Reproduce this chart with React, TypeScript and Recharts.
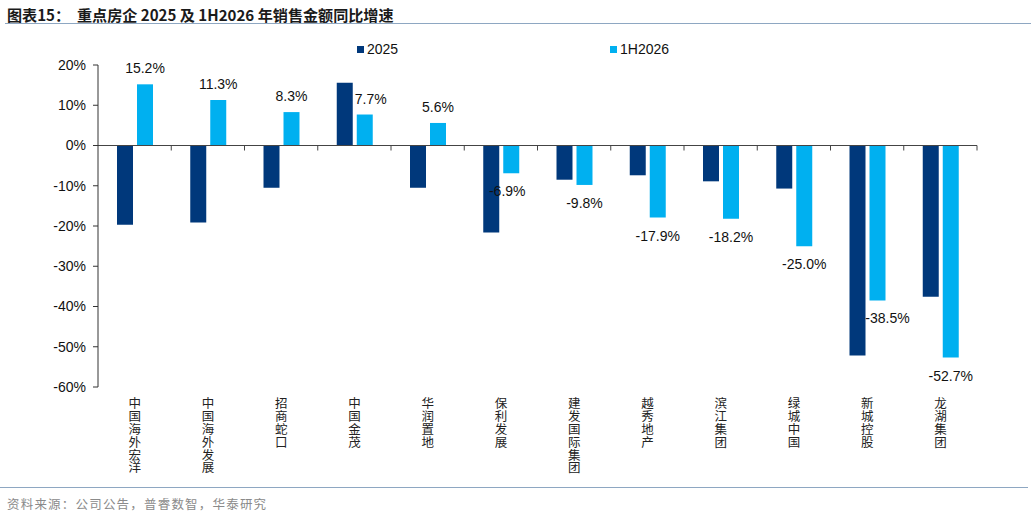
import React from "react";
import {
  BarChart,
  Bar,
  XAxis,
  YAxis,
  LabelList,
  ReferenceLine,
} from "recharts";

const companies = [
  "中国海外宏洋",
  "中国海外发展",
  "招商蛇口",
  "中国金茂",
  "华润置地",
  "保利发展",
  "建发国际集团",
  "越秀地产",
  "滨江集团",
  "绿城中国",
  "新城控股",
  "龙湖集团",
];

const growth2025 = [-19.7, -19.1, -10.5, 15.6, -10.5, -21.6, -8.5, -7.4, -8.9, -10.7, -52.2, -37.6];
const growth1H2026 = [15.2, 11.3, 8.3, 7.7, 5.6, -6.9, -9.8, -17.9, -18.2, -25.0, -38.5, -52.7];

const yTicks = [-60, -50, -40, -30, -20, -10, 0, 10, 20];

const DARK = "#00387B";
const LIGHT = "#00B0F0";
const LATIN = "'Liberation Sans', Arial, sans-serif";
const CJK = "'Noto Sans CJK SC', sans-serif";

// labels nudged sideways where excel moved them off the neighbouring bar
const labelNudge: Record<number, number> = { 3: 6, 5: -4, 10: 10 };

const data = companies.map((name, i) => ({
  name,
  y2025: growth2025[i],
  y1H2026: growth1H2026[i],
}));

// vertical stacked-character category labels
const VerticalTick = (props: any) => {
  const { x, y, payload } = props;
  return (
    <text
      x={x}
      y={y + 10}
      fontSize={12.5}
      fontFamily={CJK}
      fill="#222"
      style={{ writingMode: "vertical-rl", letterSpacing: 0.4 } as any}
    >
      {payload.value}
    </text>
  );
};

// zero line with tick marks at category boundaries
const ZeroAxis = (props: any) => {
  const { x1, y1, x2, y2 } = props;
  const n = companies.length;
  const step = (x2 - x1) / n;
  return (
    <g>
      <line x1={x1} y1={y1} x2={x2} y2={y2} stroke="#444" strokeWidth={1} />
      {companies.map((_, i) => {
        const tx = x1 + step * (i + 1);
        return <line key={i} x1={tx} y1={y1} x2={tx} y2={y1 + 5} stroke="#444" strokeWidth={1} />;
      })}
    </g>
  );
};

const ValueLabel = (props: any) => {
  const { x, y, width, height, value, index } = props;
  const top = Math.min(y, y + height);
  const bottom = Math.max(y, y + height);
  const cy = value >= 0 ? top - 16 : bottom + 18;
  return (
    <text
      x={x + width / 2 + (labelNudge[index] || 0)}
      y={cy}
      textAnchor="middle"
      dominantBaseline="central"
      fontSize={14}
      fontFamily={LATIN}
      fill="#111"
    >
      {`${value.toFixed(1)}%`}
    </text>
  );
};

export default function App() {
  return (
    <div
      style={{
        position: "absolute",
        left: 0,
        top: 0,
        width: 1031,
        height: 517,
        background: "#fff",
        overflow: "hidden",
      }}
    >
      <div
        style={{
          position: "absolute",
          left: 7,
          top: 3,
          fontFamily: CJK,
          fontWeight: 700,
          fontSize: 15.1,
          color: "#1a1a1a",
          whiteSpace: "pre",
        }}
      >
        {"图表15：  重点房企 2025 及 1H2026 年销售金额同比增速"}
      </div>
      <div style={{ position: "absolute", left: 5, top: 23, width: 1026, height: 1, background: "#8EA7C2" }} />

      {/* legend */}
      <div style={{ position: "absolute", left: 357, top: 41, display: "flex", alignItems: "center", fontFamily: LATIN, fontSize: 14, color: "#111" }}>
        <span style={{ width: 7, height: 7, background: DARK, marginRight: 3 }} />
        <span>2025</span>
      </div>
      <div style={{ position: "absolute", left: 610, top: 41, display: "flex", alignItems: "center", fontFamily: LATIN, fontSize: 14, color: "#111" }}>
        <span style={{ width: 7, height: 7, background: LIGHT, marginRight: 3 }} />
        <span>1H2026</span>
      </div>

      <div style={{ position: "absolute", left: 0, top: 0 }}>
        <BarChart
          width={1031}
          height={480}
          data={data}
          margin={{ top: 65, right: 54, bottom: 0, left: 0 }}
          barSize={16}
          barGap={4}
        >
          <XAxis
            dataKey="name"
            axisLine={false}
            tickLine={false}
            tickSize={0}
            tickMargin={0}
            height={93}
            interval={0}
            tick={<VerticalTick />}
          />
          <YAxis
            width={98}
            domain={[-60, 20]}
            ticks={yTicks}
            interval={0}
            tickFormatter={(v: number) => `${v}%`}
            axisLine={{ stroke: "#333" }}
            tickLine={{ stroke: "#333" }}
            tickSize={5}
            tickMargin={7}
            tick={{ fontSize: 14, fontFamily: LATIN, fill: "#111" }}
          />
          <ReferenceLine y={0} shape={<ZeroAxis />} />
          <Bar dataKey="y2025" fill={DARK} isAnimationActive={false} />
          <Bar dataKey="y1H2026" fill={LIGHT} isAnimationActive={false}>
            <LabelList dataKey="y1H2026" content={<ValueLabel />} />
          </Bar>
        </BarChart>
      </div>

      <div style={{ position: "absolute", left: 0, top: 487, width: 1028, height: 1, background: "#8EA7C2" }} />
      <div
        style={{
          position: "absolute",
          left: 7,
          top: 494,
          fontFamily: CJK,
          fontSize: 12.5,
          letterSpacing: 1.2,
          color: "#8a8a8a",
          whiteSpace: "pre",
        }}
      >
        {"资料来源：公司公告，普睿数智，华泰研究"}
      </div>
    </div>
  );
}
